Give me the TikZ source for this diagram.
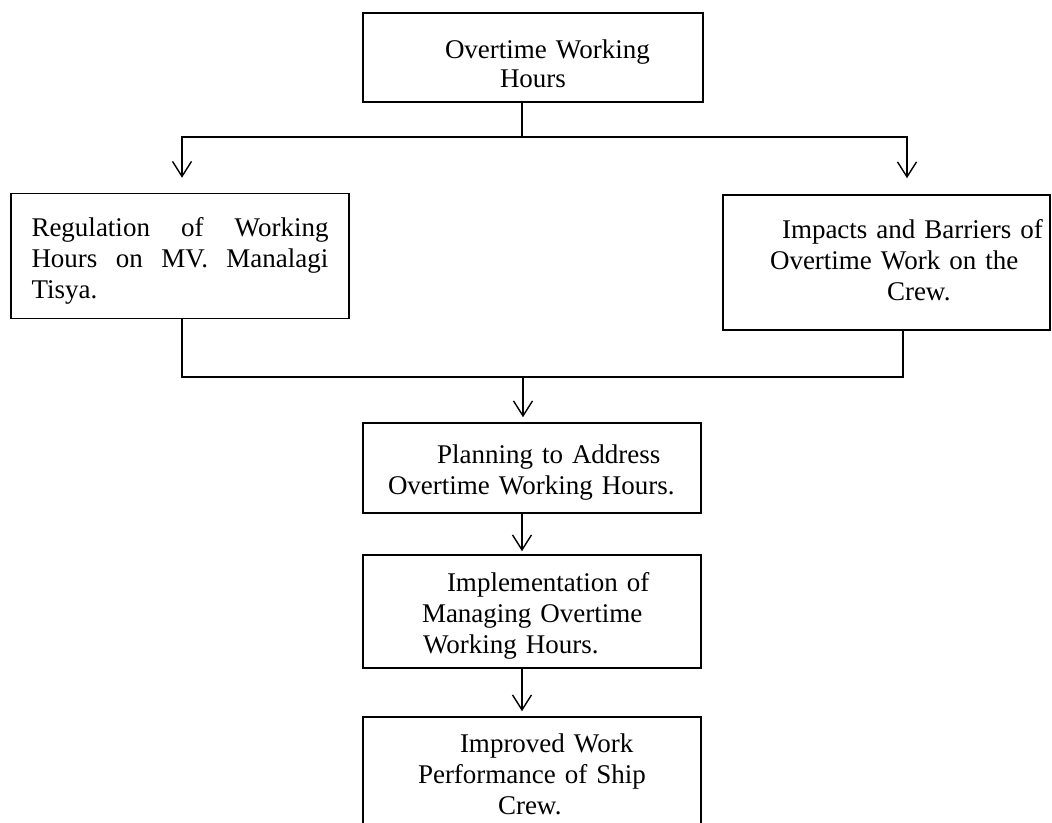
\documentclass[tikz,border=0pt]{standalone}
\usepackage{fontspec}
\setmainfont{Liberation Serif}
\usetikzlibrary{arrows.meta}

\begin{document}
\begin{tikzpicture}[x=1pt, y=-1pt, >={Straight Barb[length=15pt,width=19pt]},
  box/.style={draw, line width=1.6pt, rectangle, inner sep=0pt, align=left,
    text height=28pt, font=\fontsize{27}{31}\selectfont},
  link/.style={line width=1.4pt},
  flow/.style={link, ->}]
  \useasboundingbox (0,0) rectangle (1052,822);
  \clip (0,0) rectangle (1052,822);
  % 顶部方框
  \node[box, text width=340pt, minimum height=89pt, text height=32pt, font=\fontsize{27}{29}\selectfont] (hours) at (533,57.5)
    {\hspace*{82pt}Overtime Working\\\hspace*{137pt}Hours};
  % 第二层两个方框
  \node[box, text width=297pt, inner xsep=20.5pt, minimum height=125pt] (reg) at (180,256)
    {Regulation\hfill of\hfill Working\\Hours\hfill on\hfill MV.\hfill Manalagi\\Tisya.};
  \node[box, text width=327pt, minimum height=135pt, text height=14pt] (impact) at (886.5,262.5)
    {\hspace*{59pt}Impacts and Barriers of\\\hspace*{47pt}Overtime Work on the\\\hspace*{164pt}Crew.};
  % 下面三个方框
  \node[box, text width=338pt, minimum height=90pt] (plan) at (532,468)
    {\hspace*{74pt}Planning to Address\\\hspace*{25pt}Overtime Working Hours.};
  \node[box, text width=338pt, minimum height=113pt] (impl) at (532,611.5)
    {\hspace*{84pt}Implementation of\\\hspace*{59pt}Managing Overtime\\\hspace*{60pt}Working Hours.};
  \node[box, text width=338pt, minimum height=113pt, text height=21pt] (crew) at (532,773.5)
    {\hspace*{97pt}Improved Work\\\hspace*{55pt}Performance of Ship\\\hspace*{135pt}Crew.};
  % 分叉连线
  \coordinate (split) at (522,137);
  \coordinate (splitL) at (182,137);
  \coordinate (splitR) at (907,137);
  \draw[link] (hours.south -| split) -- (split);
  \draw[flow, shorten >=15pt] (split) -- (splitL) -- (splitL |- reg.north);
  \draw[flow, shorten >=16pt] (split) -- (splitR) -- (splitR |- impact.north);
  % 汇合连线
  \coordinate (join) at (523,377);
  \coordinate (joinR) at (903,377);
  \draw[link] (reg.south -| splitL) |- (joinR) -- (joinR |- impact.south);
  \draw[flow, shorten >=5pt] (join) -- (join |- plan.north);
  \draw[flow, shorten >=3pt] (plan.south -| split) -- (impl.north -| split);
  \draw[flow, shorten >=5pt] (impl.south -| split) -- (crew.north -| split);
\end{tikzpicture}
\end{document}
